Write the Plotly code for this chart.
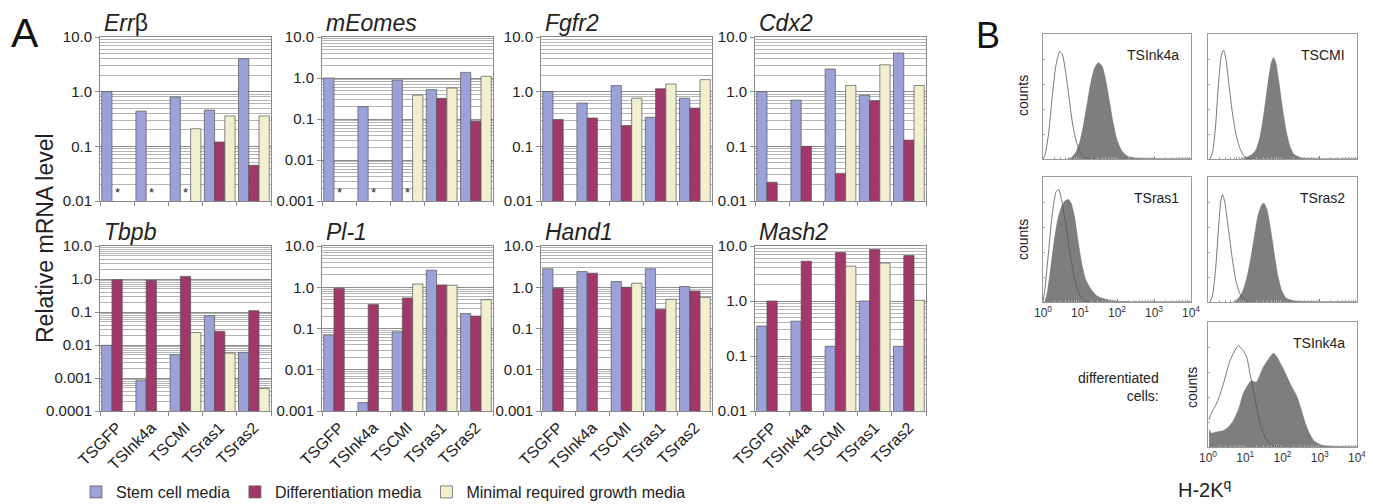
import plotly.graph_objects as go
import numpy as np

# page is drawn with an 8px body margin; figure sized to fill the rest of the window
OFF = 8
W, H = 1373 - OFF, 504 - OFF

cells = ["TSGFP", "TSInk4a", "TSCMI", "TSras1", "TSras2"]
media = ["Stem cell media", "Differentiation media", "Minimal required growth media"]
colors = ["#9ca2d8", "#a0386a", "#f1efcf"]

# Panel A values (relative mRNA level); None = not shown, star = not detected
errb_stem = [1.0, 0.44, 0.8, 0.46, 4.0]
errb_diff = [None, None, None, 0.12, 0.045]
errb_min = [None, None, 0.21, 0.36, 0.36]

meomes_stem = [1.0, 0.2, 0.88, 0.52, 1.37]
meomes_diff = [None, None, None, 0.32, 0.088]
meomes_min = [None, None, 0.38, 0.57, 1.1]

fgfr2_stem = [1.0, 0.62, 1.29, 0.34, 0.76]
fgfr2_diff = [0.31, 0.33, 0.24, 1.13, 0.5]
fgfr2_min = [None, None, 0.76, 1.38, 1.66]

cdx2_stem = [1.0, 0.7, 2.6, 0.86, 5.1]
cdx2_diff = [0.022, 0.1, 0.032, 0.68, 0.13]
cdx2_min = [None, None, 1.3, 3.1, 1.3]

tbpb_stem = [0.0098, 0.00083, 0.0051, 0.077, 0.006]
tbpb_diff = [0.95, 0.91, 1.2, 0.026, 0.11]
tbpb_min = [None, None, 0.024, 0.0057, 0.00048]

pl1_stem = [0.069, 0.0016, 0.083, 2.6, 0.23]
pl1_diff = [0.95, 0.38, 0.55, 1.14, 0.2]
pl1_min = [None, None, 1.2, 1.12, 0.5]

hand1_stem = [2.8, 2.4, 1.37, 2.8, 1.04]
hand1_diff = [0.95, 2.2, 1.0, 0.29, 0.81]
hand1_min = [None, None, 1.25, 0.51, 0.57]

mash2_stem = [0.35, 0.43, 0.15, 1.0, 0.15]
mash2_diff = [1.0, 5.3, 7.6, 8.6, 6.7]
mash2_min = [None, None, 4.3, 4.9, 1.03]

genes = [
    ("<i>Err</i>β", errb_stem, errb_diff, errb_min, -2, ["TSGFP", "TSInk4a", "TSCMI"]),
    ("<i>mEomes</i>", meomes_stem, meomes_diff, meomes_min, -3, ["TSGFP", "TSInk4a", "TSCMI"]),
    ("<i>Fgfr2</i>", fgfr2_stem, fgfr2_diff, fgfr2_min, -2, []),
    ("<i>Cdx2</i>", cdx2_stem, cdx2_diff, cdx2_min, -2, []),
    ("<i>Tbpb</i>", tbpb_stem, tbpb_diff, tbpb_min, -4, []),
    ("<i>Pl-1</i>", pl1_stem, pl1_diff, pl1_min, -3, []),
    ("<i>Hand1</i>", hand1_stem, hand1_diff, hand1_min, -3, []),
    ("<i>Mash2</i>", mash2_stem, mash2_diff, mash2_min, -2, []),
]

tick_vals = [0.0001, 0.001, 0.01, 0.1, 1.0, 10.0]
tick_text = ["0.0001", "0.001", "0.01", "0.1", "1.0", "10.0"]

# Panel B flow cytometry histograms: x in log10 units, y in % of axis height
ink4a_ctrl_x = [0.0, 0.05, 0.15, 0.25, 0.35, 0.45, 0.52, 0.6, 0.7, 0.8, 0.9, 1.0, 1.1, 1.2, 1.4]
ink4a_ctrl_y = [0, 3, 20, 50, 75, 86, 84, 72, 50, 28, 14, 6, 2, 0.5, 0]
ink4a_stain_x = [0.7, 0.8, 0.9, 1.0, 1.1, 1.2, 1.3, 1.4, 1.5, 1.6, 1.7, 1.8, 1.9, 2.0, 2.1, 2.2, 2.3, 2.5, 2.8, 4.0]
ink4a_stain_y = [0, 2, 6, 14, 28, 45, 62, 73, 77, 74, 62, 45, 28, 15, 8, 4, 2, 0.8, 0.4, 0.2]

cmi_ctrl_x = [0.05, 0.12, 0.2, 0.28, 0.36, 0.42, 0.48, 0.56, 0.65, 0.75, 0.85, 0.95, 1.05, 1.2]
cmi_ctrl_y = [0, 5, 25, 60, 83, 87, 80, 60, 38, 20, 9, 3, 0.5, 0]
cmi_stain_x = [0.9, 1.05, 1.2, 1.3, 1.4, 1.5, 1.6, 1.7, 1.76, 1.82, 1.9, 2.0, 2.1, 2.2, 2.3, 2.45, 2.6, 4.0]
cmi_stain_y = [0, 1.5, 4, 8, 18, 36, 58, 77, 81, 77, 62, 40, 22, 10, 4, 1.5, 0.6, 0.2]

ras1_ctrl_x = [0.0, 0.05, 0.15, 0.25, 0.35, 0.42, 0.5, 0.6, 0.7, 0.8, 0.9, 1.0, 1.1, 1.25]
ras1_ctrl_y = [0, 10, 40, 70, 88, 90, 82, 65, 45, 27, 13, 5, 1.5, 0]
ras1_stain_x = [0.05, 0.12, 0.2, 0.3, 0.4, 0.5, 0.6, 0.68, 0.76, 0.85, 0.95, 1.05, 1.15, 1.3, 1.45, 1.6, 1.8, 2.0, 2.3, 4.0]
ras1_stain_y = [0, 8, 25, 48, 66, 76, 81, 82, 79, 68, 48, 30, 18, 10, 5, 3, 1.5, 0.6, 0.3, 0.2]

ras2_ctrl_x = [0.05, 0.12, 0.2, 0.28, 0.34, 0.39, 0.45, 0.55, 0.65, 0.75, 0.85, 0.95, 1.1]
ras2_ctrl_y = [0, 5, 25, 58, 80, 86, 80, 58, 35, 17, 7, 2, 0]
ras2_stain_x = [0.7, 0.85, 0.95, 1.05, 1.15, 1.25, 1.35, 1.45, 1.5, 1.58, 1.68, 1.78, 1.88, 1.98, 2.1, 2.3, 2.6, 4.0]
ras2_stain_y = [0, 4, 10, 20, 35, 53, 70, 78, 79, 74, 58, 38, 20, 9, 3, 1, 0.4, 0.2]

diff_ctrl_x = [0.03, 0.09, 0.2, 0.3, 0.41, 0.5, 0.59, 0.7, 0.81, 0.86, 0.95, 1.04, 1.12, 1.22, 1.31, 1.4, 1.5, 1.58, 1.76, 2.0]
diff_ctrl_y = [22, 27, 33, 40, 50, 60, 69, 76, 81, 80, 77, 72, 60, 45, 31, 19, 10, 5, 1, 0]
diff_stain_x = [0.03, 0.09, 0.23, 0.41, 0.55, 0.68, 0.82, 0.95, 1.08, 1.17, 1.25, 1.31, 1.4, 1.49, 1.62, 1.76, 1.85, 1.94, 2.03, 2.12, 2.25, 2.39, 2.5, 2.61, 2.72, 2.84, 3.0, 3.11, 3.4, 4.0]
diff_stain_y = [14, 11, 12, 13, 16, 21, 30, 43, 50, 53, 52, 52, 58, 64, 70, 75, 72, 67, 62, 56, 48, 40, 30, 19, 11, 5, 2, 1, 0.5, 0.3]

fig = go.Figure()

FONT = "Liberation Sans, Arial"


def px(x):
    return (x - OFF) / W


def py(y):
    return 1 - (y - OFF) / H


# ---------- Panel A ----------
a_cols = [(100, 271), (322, 493), (541, 712), (755, 926)]
a_rows = [(37, 201), (246, 411)]
layout_axes = {}
annotations = []

for i, (title, s, d, m, lo, stars) in enumerate(genes):
    n = i + 1
    r, c = divmod(i, 4)
    x0, x1 = a_cols[c]
    yt, yb = a_rows[r]
    xa = "x" if n == 1 else f"x{n}"
    ya = "y" if n == 1 else f"y{n}"
    for k, vals in enumerate([s, d, m]):
        fig.add_trace(go.Bar(
            x=cells, y=vals, name=media[k], legendgroup=media[k],
            showlegend=(i == 0), xaxis=xa, yaxis=ya,
            marker=dict(color=colors[k], line=dict(color="#555555", width=0.7)),
        ))
    minors = [k * 10.0 ** e for e in range(lo, 1) for k in range(2, 10)]
    layout_axes[f"xaxis{n}"] = dict(
        domain=[px(x0), px(x1)], anchor=ya, type="category", automargin=False,
        categoryorder="array", categoryarray=cells,
        showline=True, linecolor="#8a8a8a", linewidth=1, mirror=True,
        ticks="outside", tickson="boundaries", ticklen=4, tickcolor="#8a8a8a",
        showticklabels=(r == 1), tickangle=-45,
        tickfont=dict(size=16, color="#222", family=FONT),
        showgrid=False, fixedrange=True,
    )
    layout_axes[f"yaxis{n}"] = dict(
        domain=[py(yb), py(yt)], anchor=xa, type="log", range=[lo, 1], automargin=False,
        tickvals=[v for v in tick_vals if v >= 10 ** lo - 1e-12],
        ticktext=[t for v, t in zip(tick_vals, tick_text) if v >= 10 ** lo - 1e-12],
        showgrid=True, gridcolor="#8c8c8c", gridwidth=1,
        minor=dict(tickvals=minors, showgrid=True, gridcolor="#b4b4b4", gridwidth=1, ticks=""),
        showline=True, linecolor="#8a8a8a", linewidth=1, mirror=True,
        ticks="outside", ticklen=4, tickcolor="#8a8a8a",
        tickfont=dict(size=15, color="#222", family=FONT),
        zeroline=False, fixedrange=True,
    )
    annotations.append(dict(
        text=title, xref="paper", yref="paper", x=px(x0 + 2), y=py(yt - 14),
        xanchor="left", yanchor="middle", showarrow=False,
        font=dict(size=23, color="#222", family=FONT),
    ))
    for st in stars:
        annotations.append(dict(
            text="*", xref=xa, yref=ya, x=st, y=lo, xanchor="center", yanchor="bottom",
            showarrow=False, yshift=-1, font=dict(size=13, color="#222", family=FONT),
        ))

annotations.append(dict(
    text="Relative mRNA level", xref="paper", yref="paper", x=px(45), y=py(238),
    textangle=-90, showarrow=False, xanchor="center", yanchor="middle",
    font=dict(size=23, color="#222", family=FONT),
))
annotations.append(dict(
    text="A", xref="paper", yref="paper", x=px(9), y=py(33), xanchor="left", yanchor="middle",
    showarrow=False, font=dict(size=41, color="#111", family=FONT),
))
annotations.append(dict(
    text="B", xref="paper", yref="paper", x=px(974), y=py(35), xanchor="left", yanchor="middle",
    showarrow=False, font=dict(size=36, color="#111", family=FONT),
))

# ---------- Panel B ----------
b_panels = [
    ("TSInk4a", (1043, 1191), (34, 159), ink4a_ctrl_x, ink4a_ctrl_y, ink4a_stain_x, ink4a_stain_y, False),
    ("TSCMI", (1208, 1357), (34, 159), cmi_ctrl_x, cmi_ctrl_y, cmi_stain_x, cmi_stain_y, False),
    ("TSras1", (1043, 1191), (177, 302), ras1_ctrl_x, ras1_ctrl_y, ras1_stain_x, ras1_stain_y, True),
    ("TSras2", (1208, 1357), (177, 302), ras2_ctrl_x, ras2_ctrl_y, ras2_stain_x, ras2_stain_y, False),
    ("TSInk4a", (1208, 1357), (322, 447), diff_ctrl_x, diff_ctrl_y, diff_stain_x, diff_stain_y, True),
]
xminors = [k * 10.0 ** e for e in range(0, 4) for k in range(2, 10)]
for j, (lab, (x0, x1), (yt, yb), cx, cy, sx, sy, showlab) in enumerate(b_panels):
    n = 9 + j
    xa, ya = f"x{n}", f"y{n}"
    fig.add_trace(go.Scatter(
        x=10 ** np.array(sx), y=sy, mode="lines", xaxis=xa, yaxis=ya, showlegend=False,
        line=dict(color="#707070", width=0.6, shape="spline", smoothing=0.6),
        fill="tozeroy", fillcolor="#7e7e7e",
    ))
    fig.add_trace(go.Scatter(
        x=10 ** np.array(cx), y=cy, mode="lines", xaxis=xa, yaxis=ya, showlegend=False,
        line=dict(color="#555555", width=0.8, shape="spline", smoothing=0.6),
    ))
    layout_axes[f"xaxis{n}"] = dict(
        domain=[px(x0), px(x1)], anchor=ya, type="log", range=[0, 4], automargin=False,
        tickvals=[1, 10, 100, 1000, 10000],
        ticktext=["10<sup>0</sup>", "10<sup>1</sup>", "10<sup>2</sup>", "10<sup>3</sup>", "10<sup>4</sup>"],
        showticklabels=showlab, ticks="inside", ticklen=3, tickcolor="#888",
        minor=dict(tickvals=xminors, ticks="inside", ticklen=2, tickcolor="#aaa", showgrid=False),
        tickfont=dict(size=12, color="#333", family=FONT),
        showline=True, linecolor="#9a9a9a", linewidth=1, mirror=True,
        showgrid=False, zeroline=False, fixedrange=True,
    )
    layout_axes[f"yaxis{n}"] = dict(
        domain=[py(yb), py(yt)], anchor=xa, range=[0, 100], automargin=False,
        showticklabels=False, ticks="inside", ticklen=2, tickcolor="#aaa", dtick=20,
        showline=True, linecolor="#9a9a9a", linewidth=1, mirror=True,
        showgrid=False, zeroline=False, fixedrange=True,
    )
    annotations.append(dict(
        text=lab, xref="paper", yref="paper", x=px(x1 - 10), y=py(yt + 21),
        xanchor="right", yanchor="middle", showarrow=False,
        font=dict(size=14, color="#222", family=FONT),
    ))

for (cxp, cyp) in [(1023, 96), (1023, 240), (1192, 388)]:
    annotations.append(dict(
        text="counts", xref="paper", yref="paper", x=px(cxp), y=py(cyp), textangle=-90,
        xanchor="center", yanchor="middle", showarrow=False,
        font=dict(size=14, color="#222", family=FONT),
    ))
annotations.append(dict(
    text="differentiated<br>cells:", xref="paper", yref="paper", x=px(1161), y=py(387),
    xanchor="right", yanchor="middle", align="right", showarrow=False,
    font=dict(size=14, color="#222", family=FONT),
))
annotations.append(dict(
    text="H-2K<sup>q</sup>", xref="paper", yref="paper", x=px(1204), y=py(488),
    xanchor="center", yanchor="middle", showarrow=False,
    font=dict(size=20, color="#222", family=FONT),
))

fig.update_layout(
    width=W, height=H, margin=dict(l=0, r=0, t=0, b=0, autoexpand=False),
    paper_bgcolor="white", plot_bgcolor="white",
    barmode="group", bargap=0.1, bargroupgap=0,
    font=dict(family=FONT, color="#222"),
    legend=dict(orientation="h", x=px(76), y=py(492), xanchor="left", yanchor="middle",
                font=dict(size=16, color="#222"), itemwidth=30, tracegroupgap=0,
                bgcolor="rgba(0,0,0,0)"),
    annotations=annotations,
    **layout_axes,
)

fig.write_html("out.html")
